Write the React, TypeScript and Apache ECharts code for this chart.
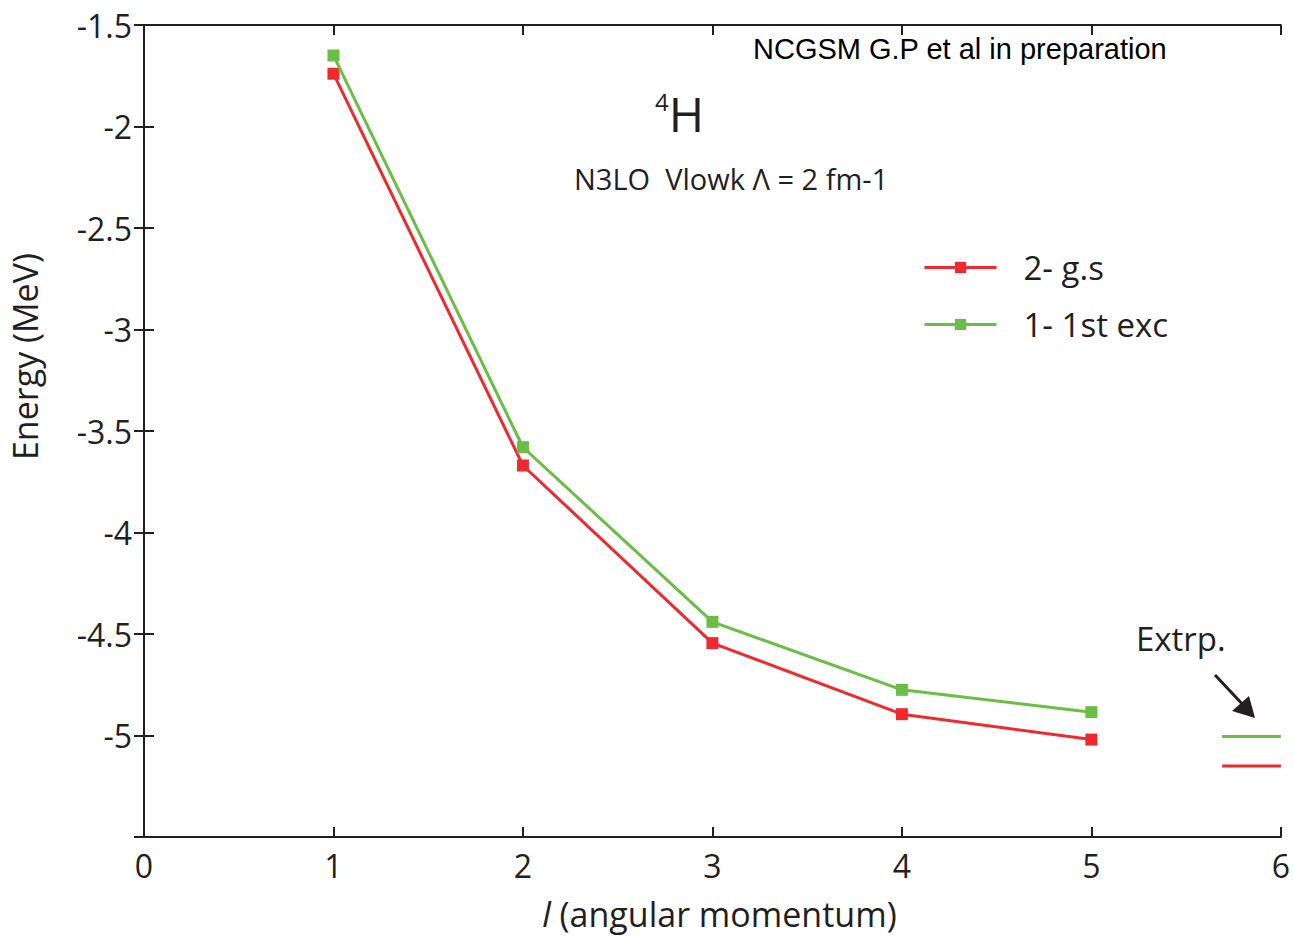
import React, { useEffect, useRef } from "react";
import * as echarts from "echarts";

const xTicks = [0, 1, 2, 3, 4, 5, 6];
const lValues = [1, 2, 3, 4, 5];
const groundState = [-1.74, -3.67, -4.545, -4.895, -5.02];
const firstExcited = [-1.65, -3.58, -4.44, -4.775, -4.885];
const extrapX = [5.69, 6];
const extrapGround = -5.15;
const extrapExcited = -5.005;
const seriesNames = ["2- g.s", "1- 1st exc"];

const RED = "#ee2a30";
const GREEN = "#6abd45";
const FONT = "Open Sans";
const INK = "#231f20";

export default function App() {
  const ref = useRef<HTMLDivElement>(null);
  useEffect(() => {
    if (!ref.current) return;
    const chart = echarts.init(ref.current, undefined, { renderer: "svg" });
    const axisLine = { show: true, lineStyle: { color: INK, width: 2 } };
    const tickStyle = { show: true, inside: true, length: 10, lineStyle: { color: INK, width: 2 } };
    chart.setOption({
      animation: false,
      backgroundColor: "#fff",
      grid: { left: 144, right: 8, top: 25, bottom: 92, containLabel: false },
      xAxis: [
        {
          type: "value",
          min: xTicks[0],
          max: xTicks[xTicks.length - 1],
          interval: 1,
          axisLine,
          axisTick: tickStyle,
          splitLine: { show: false },
          axisLabel: { fontFamily: FONT, fontSize: 32, color: INK, margin: 12 },
          name: "{i|l} (angular momentum)",
          nameLocation: "middle",
          nameGap: 60,
          nameTextStyle: {
            fontFamily: FONT,
            fontSize: 34,
            color: INK,
            padding: [0, 0, 0, 14],
            rich: { i: { fontStyle: "italic", fontFamily: FONT, fontSize: 34, color: INK } },
          },
        },
        {
          type: "value",
          position: "top",
          min: xTicks[0],
          max: xTicks[xTicks.length - 1],
          interval: 1,
          axisLine,
          axisTick: tickStyle,
          axisLabel: { show: false },
          splitLine: { show: false },
        },
      ],
      yAxis: [
        {
          type: "value",
          min: -5.5,
          max: -1.5,
          interval: 0.5,
          axisLine,
          axisTick: tickStyle,
          splitLine: { show: false },
          axisLabel: {
            fontFamily: FONT,
            fontSize: 32,
            color: INK,
            margin: 12,
            formatter: (v: number) => (v <= -5.4 ? "" : String(v)),
          },
        },
        {
          type: "value",
          position: "right",
          min: -5.5,
          max: -1.5,
          interval: 0.5,
          axisLine,
          axisTick: tickStyle,
          axisLabel: { show: false },
          splitLine: { show: false },
        },
      ],
      legend: {
        orient: "vertical",
        left: 918,
        top: 246,
        itemWidth: 72,
        itemHeight: 14,
        itemGap: 24,
        data: seriesNames,
        lineStyle: { width: 3 },
        textStyle: { fontFamily: FONT, fontSize: 33, color: INK, padding: [0, 0, 0, 22] },
      },
      series: [
        {
          name: seriesNames[0],
          type: "line",
          data: lValues.map((x, i) => [x, groundState[i]]),
          symbol: "rect",
          symbolSize: 12,
          lineStyle: { color: RED, width: 3 },
          itemStyle: { color: RED },
          z: 3,
        },
        {
          name: seriesNames[1],
          type: "line",
          data: lValues.map((x, i) => [x, firstExcited[i]]),
          symbol: "rect",
          symbolSize: 12,
          lineStyle: { color: GREEN, width: 3 },
          itemStyle: { color: GREEN },
          z: 4,
        },
        {
          name: "extrap-gs",
          type: "line",
          data: extrapX.map((x) => [x, extrapGround]),
          symbol: "none",
          lineStyle: { color: RED, width: 3 },
          itemStyle: { color: RED },
        },
        {
          name: "extrap-exc",
          type: "line",
          data: extrapX.map((x) => [x, extrapExcited]),
          symbol: "none",
          lineStyle: { color: GREEN, width: 3 },
          itemStyle: { color: GREEN },
        },
      ],
      graphic: [
        {
          type: "text",
          x: 753,
          y: 49,
          style: {
            text: "NCGSM G.P et al in preparation",
            fontFamily: "Liberation Sans",
            fontSize: 29,
            fill: "#000",
            verticalAlign: "middle",
          },
        },
        {
          type: "text",
          x: 655,
          y: 113,
          style: {
            text: "{s|4}{h|H}",
            fill: INK,
            verticalAlign: "middle",
            rich: {
              s: { fontFamily: FONT, fontSize: 24, verticalAlign: "top", padding: [0, 0, 20, 0], fill: INK },
              h: { fontFamily: FONT, fontSize: 48, fill: INK },
            },
          },
        },
        {
          type: "text",
          x: 574,
          y: 178,
          style: {
            text: "N3LO  Vlowk Λ = 2 fm-1",
            fontFamily: FONT,
            fontSize: 29,
            fill: INK,
            verticalAlign: "middle",
          },
        },
        {
          type: "text",
          x: 1136,
          y: 638,
          style: {
            text: "Extrp.",
            fontFamily: FONT,
            fontSize: 33,
            fill: INK,
            verticalAlign: "middle",
          },
        },
        {
          type: "text",
          left: 8,
          top: 253,
          rotation: Math.PI / 2,
          style: {
            text: "Energy (MeV)",
            fontFamily: FONT,
            fontSize: 34,
            fill: INK,
          },
        },
        {
          type: "line",
          shape: { x1: 1215, y1: 675, x2: 1246, y2: 708 },
          style: { stroke: INK, lineWidth: 3 },
        },
        {
          type: "polygon",
          shape: { points: [[1255, 718], [1232, 711], [1249, 696]] },
          style: { fill: INK },
        },
      ],
    });
    return () => chart.dispose();
  }, []);
  return (
    <div
      ref={ref}
      style={{ position: "fixed", left: 0, top: 0, width: 1293, height: 936, background: "#fff" }}
    />
  );
}
